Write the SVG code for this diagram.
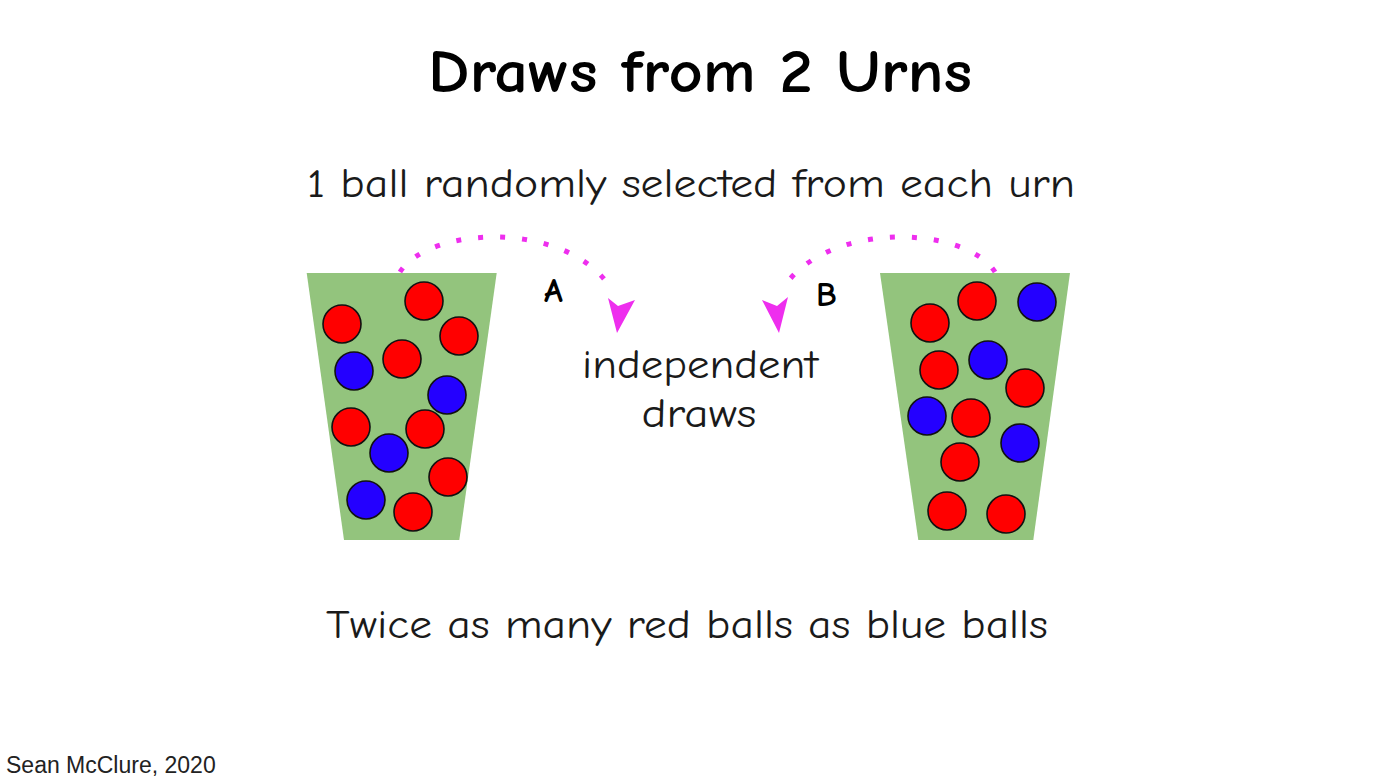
<svg xmlns="http://www.w3.org/2000/svg" width="1400" height="783" viewBox="0 0 1400 783">
<style>
.hand{font-family:"Comic Sans MS","Comic Neue",Lato,"DejaVu Sans",sans-serif;fill:#1a1a1a}
.title{font-size:60px;font-weight:bold;fill:#000}
.body{font-size:40px}
.lbl{font-size:34px;font-weight:bold;fill:#000}
.urn{fill:#93c47d}
.r{fill:#ff0000;stroke:#111;stroke-width:1.6}
.b{fill:#2400ff;stroke:#111;stroke-width:1.6}
.arc{fill:none;stroke:#ee2eee;stroke-width:5;stroke-dasharray:5 17}
.head{fill:#ee2eee}
.credit{font-family:"Liberation Sans",Arial,sans-serif;font-size:23px;fill:#222}
</style>
<rect width="1400" height="783" fill="#fff"/>
<text class="hand title" x="700" y="92" text-anchor="middle" textLength="544" lengthAdjust="spacingAndGlyphs">Draws from 2 Urns</text>
<text class="hand body" x="691" y="197" text-anchor="middle" textLength="768" lengthAdjust="spacingAndGlyphs">1 ball randomly selected from each urn</text>
<g id="urnA">
<polygon class="urn" points="306.7,273 496.7,273 459.3,540 344,540"/>
<circle class="r" cx="424" cy="301" r="19"/>
<circle class="r" cx="342" cy="324" r="19"/>
<circle class="r" cx="459" cy="336" r="19"/>
<circle class="b" cx="354" cy="371" r="19"/>
<circle class="r" cx="402" cy="359" r="19"/>
<circle class="b" cx="447" cy="395" r="19"/>
<circle class="r" cx="351" cy="427" r="19"/>
<circle class="r" cx="425" cy="429" r="19"/>
<circle class="b" cx="389" cy="453" r="19"/>
<circle class="r" cx="448" cy="477" r="19"/>
<circle class="b" cx="366" cy="500" r="19"/>
<circle class="r" cx="413" cy="512" r="19"/>
</g>
<g id="urnB">
<polygon class="urn" points="880,273 1070,273 1033.3,540 918.3,540"/>
<circle class="r" cx="977" cy="301" r="19"/>
<circle class="b" cx="1037" cy="302" r="19"/>
<circle class="r" cx="930" cy="323" r="19"/>
<circle class="b" cx="988" cy="360" r="19"/>
<circle class="r" cx="939" cy="370" r="19"/>
<circle class="r" cx="1025" cy="388" r="19"/>
<circle class="b" cx="927" cy="416" r="19"/>
<circle class="r" cx="971" cy="418" r="19"/>
<circle class="b" cx="1020" cy="443" r="19"/>
<circle class="r" cx="960" cy="462" r="19"/>
<circle class="r" cx="947" cy="511" r="19"/>
<circle class="r" cx="1006" cy="514" r="19"/>
</g>
<g id="connectors">
<path class="arc" d="M400,272 C430,225 570,220 612,290"/>
<polygon class="head" points="608,298 618,306 635,300 617,333"/>
<path class="arc" d="M995,272 C965,225 825,220 782,290"/>
<polygon class="head" points="788,297 777,306 762,300 779,333"/>
</g>
<text class="hand lbl" x="544" y="302">A</text>
<text class="hand lbl" x="816" y="306">B</text>
<g id="independent">
<text class="hand body" x="700" y="378" text-anchor="middle" textLength="236" lengthAdjust="spacingAndGlyphs">independent</text>
<text class="hand body" x="699" y="427" text-anchor="middle" textLength="115" lengthAdjust="spacingAndGlyphs">draws</text>
</g>
<text class="hand body" x="687" y="638" text-anchor="middle" textLength="722" lengthAdjust="spacingAndGlyphs">Twice as many red balls as blue balls</text>
<text class="credit" x="6" y="773">Sean McClure, 2020</text>
</svg>
